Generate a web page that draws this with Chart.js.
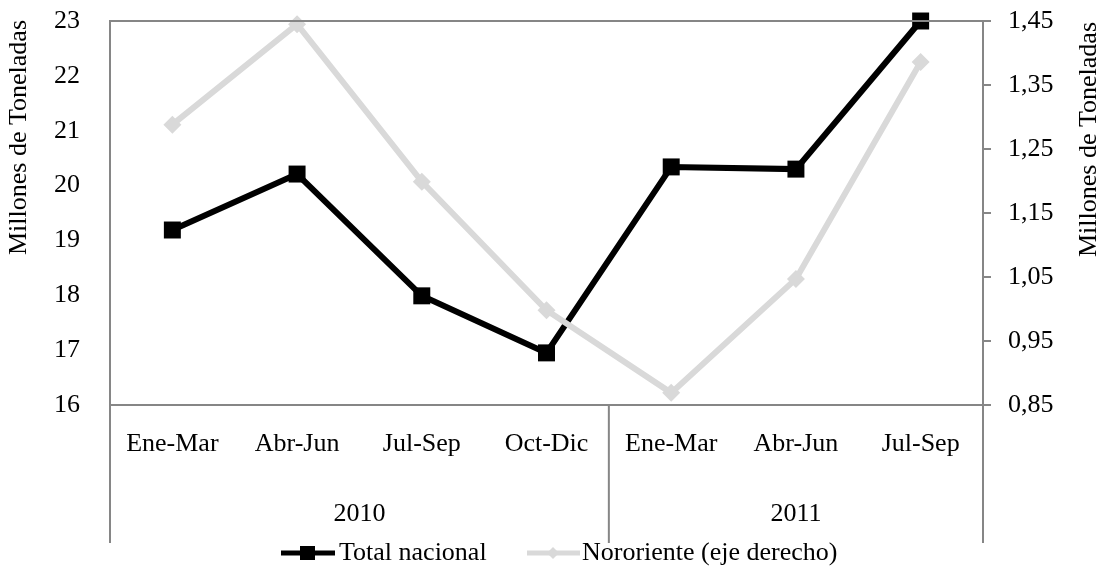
<!DOCTYPE html>
<html>
<head>
<meta charset="utf-8">
<script src="https://cdn.jsdelivr.net/npm/chart.js@4/dist/chart.umd.min.js"></script>
<style>
  html, body { margin: 0; padding: 0; background: #fff; }
  #wrap { width: 1104px; height: 571px; }
</style>
</head>
<body>
<div id="wrap"><canvas id="chart" width="1104" height="571"></canvas></div>
<script>
/* global Chart */

const quarters = ['Ene-Mar', 'Abr-Jun', 'Jul-Sep', 'Oct-Dic', 'Ene-Mar', 'Abr-Jun', 'Jul-Sep']
const years = ['2010', '2011']
const yearSpans = [4, 3]
const totalNacional = [19.19, 20.21, 17.99, 16.95, 20.34, 20.3, 23.0]
const nororiente = [1.288, 1.445, 1.199, 0.998, 0.869, 1.047, 1.386]
const rightTicks = [0.85, 0.95, 1.05, 1.15, 1.25, 1.35, 1.45]

const FONT = '"Liberation Serif", "Times New Roman", serif'
const SIZE = 26
const AXIS = '#868686'
const GRAY = '#d9d9d9'

// frame, right tick marks, year row, separators, axis titles and legend
const extras = {
  id: 'extras',
  afterDraw (chart) {
    const ctx = chart.ctx
    const a = chart.chartArea
    const y1 = chart.scales.y1
    ctx.save()
    ctx.strokeStyle = AXIS
    ctx.lineWidth = 2
    ctx.beginPath()
    ctx.moveTo(a.left, a.top)
    ctx.lineTo(a.right, a.top)
    rightTicks.forEach(v => {
      const py = y1.getPixelForValue(v)
      ctx.moveTo(a.right, py)
      ctx.lineTo(a.right + 8, py)
    })
    ctx.stroke()

    // group separators + year labels
    const step = (a.right - a.left) / quarters.length
    let idx = 0
    const bounds = [a.left]
    yearSpans.forEach(n => { idx += n; bounds.push(a.left + idx * step) })
    ctx.beginPath()
    bounds.forEach(bx => {
      ctx.moveTo(bx, a.bottom)
      ctx.lineTo(bx, 543)
    })
    ctx.stroke()
    ctx.fillStyle = '#000'
    ctx.font = SIZE + 'px ' + FONT
    ctx.textAlign = 'center'
    ctx.textBaseline = 'middle'
    years.forEach((y, i) => {
      ctx.fillText(y, (bounds[i] + bounds[i + 1]) / 2, 514)
    })

    // axis titles (both read bottom to top)
    ctx.textAlign = 'right'
    ctx.save()
    ctx.translate(19, 20)
    ctx.rotate(-Math.PI / 2)
    ctx.fillText('Millones de Toneladas', 0, 0)
    ctx.restore()
    ctx.save()
    ctx.translate(1089, 22)
    ctx.rotate(-Math.PI / 2)
    ctx.fillText('Millones de Toneladas', 0, 0)
    ctx.restore()

    // legend
    const ly = 553
    ctx.lineWidth = 5
    ctx.strokeStyle = '#000'
    ctx.beginPath()
    ctx.moveTo(281, ly)
    ctx.lineTo(335, ly)
    ctx.stroke()
    ctx.fillStyle = '#000'
    ctx.fillRect(300, ly - 7, 15, 14)
    ctx.strokeStyle = GRAY
    ctx.beginPath()
    ctx.moveTo(527, ly)
    ctx.lineTo(580, ly)
    ctx.stroke()
    ctx.fillStyle = GRAY
    ctx.beginPath()
    ctx.moveTo(553, ly - 6)
    ctx.lineTo(559, ly)
    ctx.lineTo(553, ly + 6)
    ctx.lineTo(547, ly)
    ctx.closePath()
    ctx.fill()
    ctx.fillStyle = '#000'
    ctx.textAlign = 'left'
    ctx.fillText('Total nacional', 339, ly)
    ctx.fillText('Nororiente (eje derecho)', 582, ly)
    ctx.restore()
  }
}

window.addEventListener('load', function () {
  const ctx = document.getElementById('chart').getContext('2d')
  // eslint-disable-next-line no-unused-vars
  const chart = new Chart(ctx, {
    type: 'line',
    data: {
      labels: quarters,
      datasets: [
        {
          label: 'Total nacional',
          data: totalNacional,
          yAxisID: 'y',
          borderColor: '#000',
          backgroundColor: '#000',
          borderWidth: 6,
          pointStyle: 'rect',
          pointRadius: 12,
          pointBorderWidth: 0,
          order: 2,
          clip: false
        },
        {
          label: 'Nororiente (eje derecho)',
          data: nororiente,
          yAxisID: 'y1',
          borderColor: GRAY,
          backgroundColor: GRAY,
          borderWidth: 6,
          pointStyle: 'rectRot',
          pointRadius: 9,
          pointBorderWidth: 0,
          order: 1,
          clip: false
        }
      ]
    },
    options: {
      responsive: false,
      animation: false,
      events: [],
      layout: { padding: { top: 21 } },
      plugins: {
        legend: { display: false },
        tooltip: { enabled: false }
      },
      scales: {
        x: {
          offset: true,
          grid: { display: false, drawTicks: false },
          border: { display: true, color: AXIS, width: 2 },
          ticks: {
            color: '#000',
            font: { family: FONT, size: SIZE },
            padding: 24,
            maxRotation: 0,
            autoSkip: false
          },
          afterFit (s) { s.height = 166 }
        },
        y: {
          position: 'left',
          min: 16,
          max: 23,
          grid: { display: false, drawTicks: true, tickLength: 30 },
          border: { display: true, color: AXIS, width: 2 },
          ticks: {
            stepSize: 1,
            color: '#000',
            font: { family: FONT, size: SIZE },
            padding: 0
          },
          afterFit (s) { s.width = 110 }
        },
        y1: {
          position: 'right',
          min: 0.85,
          max: 1.45,
          grid: { display: false, drawTicks: true, tickLength: 25 },
          border: { display: true, color: AXIS, width: 2 },
          ticks: {
            color: '#000',
            font: { family: FONT, size: SIZE },
            padding: 0,
            callback: v => v.toFixed(2).replace('.', ',')
          },
          afterBuildTicks (s) { s.ticks = rightTicks.map(v => ({ value: v })) },
          afterFit (s) { s.width = 121 }
        }
      }
    },
    plugins: [extras]
  })
})
</script>
</body>
</html>
